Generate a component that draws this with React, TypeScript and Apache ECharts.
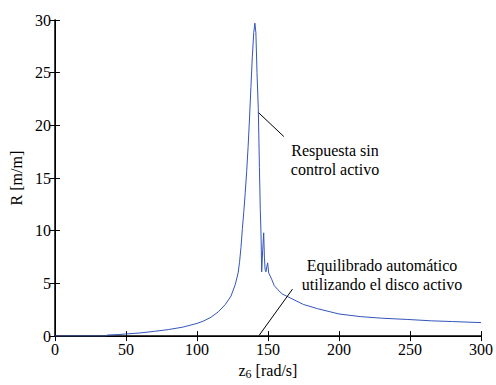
import React, { useEffect, useRef } from "react";
import * as echarts from "echarts";

const xValues = [
  0, 36, 37, 45, 50, 60, 70, 80, 90, 100, 105, 110, 115, 120, 124, 127, 129, 130,
  131, 132, 133, 134, 135, 136, 137, 138, 139, 140, 140.8, 141.5, 142.3, 143.2,
  144, 144.6, 145.1, 145.6, 146.3, 147, 147.5, 148, 148.6, 149.2, 149.8, 150.5,
  152.6, 154.4, 157, 160, 166, 175, 185, 200, 215, 230, 248, 265, 280, 300,
];
const rValues = [
  0, 0, 0.1, 0.15, 0.2, 0.3, 0.45, 0.62, 0.85, 1.2, 1.45, 1.8, 2.3, 3.0, 3.8, 4.9, 6.0, 7.0,
  8.4, 10.2, 11.8, 13.6, 15.6, 17.9, 20.6, 23.6, 26.5, 28.8, 29.7, 28.8, 25, 21.6,
  16, 12, 9.8, 6.1, 8.2, 9.8, 7.5, 6.3, 6.1, 6.6, 6.95, 6.0,
  5.4, 4.8, 4.4, 4.0, 3.6, 3.0, 2.6, 2.1, 1.85, 1.7, 1.58, 1.45, 1.38, 1.28,
];
const xTicks = [0, 50, 100, 150, 200, 250, 300];
const yTicks = [0, 5, 10, 15, 20, 25, 30];
const note1 = "Respuesta sin\ncontrol activo";
const note2 = "Equilibrado automático\nutilizando el disco activo";
const arrow1 = [[161.2, 18.94], [143.5, 21.19]];
const arrow2 = [[167.3, 4.46], [143.9, 0.09]];

const F = "Liberation Serif";
const CSS = `#chartbox svg text, #chartbox svg tspan { font-family: "Liberation Serif", "Times New Roman", serif !important; }`;

function Chart() {
  const ref = useRef<HTMLDivElement>(null);
  useEffect(() => {
    if (!ref.current) return;
    const c = echarts.init(ref.current, undefined, { renderer: "svg" });
    const xMin = xTicks[0], xMax = xTicks[xTicks.length - 1];
    const yMin = yTicks[0], yMax = yTicks[yTicks.length - 1];
    const tick = () => ({ show: true, inside: true, length: 5, lineStyle: { color: "#000" } });
    c.setOption({
      animation: false,
      textStyle: { fontFamily: F },
      grid: { left: 53, right: 15, top: 20, bottom: 44 },
      xAxis: [
        {
          type: "value", position: "bottom", min: xMin, max: xMax, interval: 50,
          axisLine: { show: true, lineStyle: { color: "#000", width: 1.5 } },
          axisTick: tick(),
          splitLine: { show: false },
          axisLabel: { color: "#000", fontSize: 16, fontFamily: F, margin: 5 },
          name: "z{sub|6} [rad/s]",
          nameLocation: "middle",
          nameGap: 22,
          nameTextStyle: {
            color: "#000", fontSize: 16, fontFamily: F,
            rich: { sub: { fontSize: 12, fontFamily: F, color: "#000", verticalAlign: "bottom", padding: [8, 0, 0, 0] } },
          },
        },
        {
          type: "value", position: "top", min: xMin, max: xMax, interval: 50,
          axisLine: { show: true, lineStyle: { color: "#000", width: 1 } },
          axisTick: tick(),
          splitLine: { show: false },
          axisLabel: { show: false, fontFamily: F },
        },
      ],
      yAxis: [
        {
          type: "value", position: "left", min: yMin, max: yMax, interval: 5,
          axisLine: { show: true, lineStyle: { color: "#000", width: 1.5 } },
          axisTick: tick(),
          splitLine: { show: false },
          axisLabel: { color: "#000", fontSize: 16, fontFamily: F, margin: 4 },
          name: "R [m/m]",
          nameLocation: "middle",
          nameGap: 28,
          nameTextStyle: { color: "#000", fontSize: 16, fontFamily: F },
        },
        {
          type: "value", position: "right", min: yMin, max: yMax, interval: 5,
          axisLine: { show: true, lineStyle: { color: "#000", width: 1 } },
          axisTick: tick(),
          splitLine: { show: false },
          axisLabel: { show: false, fontFamily: F },
        },
      ],
      series: [
        {
          type: "line",
          data: xValues.map((x, i) => [x, rValues[i]]),
          showSymbol: false,
          lineStyle: { color: "#3355bb", width: 1 },
          itemStyle: { color: "#3355bb" },
          markLine: {
            silent: true,
            symbol: ["none", "arrow"],
            symbolSize: [0, 9],
            label: { show: false },
            lineStyle: { color: "#000", width: 1, type: "solid" },
            data: [
              [{ coord: arrow1[0] }, { coord: arrow1[1] }],
              [{ coord: arrow2[0] }, { coord: arrow2[1] }],
            ],
          },
        },
      ],
      graphic: [
        {
          type: "text", x: 335, y: 160,
          style: { text: note1, fontSize: 16, fontFamily: F, fill: "#000", align: "center", verticalAlign: "middle", lineHeight: 19 },
        },
        {
          type: "text", x: 382, y: 275,
          style: { text: note2, fontSize: 16, fontFamily: F, fill: "#000", align: "center", verticalAlign: "middle", lineHeight: 19 },
        },
      ],
    });
    return () => c.dispose();
  }, []);
  return <div ref={ref} style={{ width: 496, height: 385, display: "inline-block" }} />;
}

export default function App() {
  return (
    <div id="chartbox" style={{ position: "fixed", left: 0, top: 0, width: 496, height: 385, background: "#fff" }}>
      <style>{CSS}</style>
      <Chart />
    </div>
  );
}
